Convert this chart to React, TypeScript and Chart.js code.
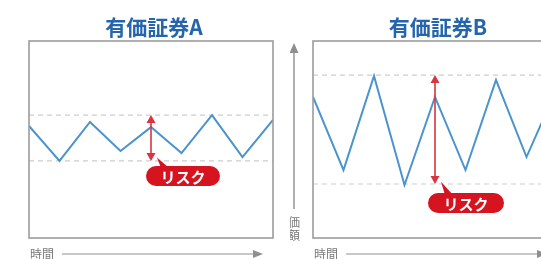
import React, { useEffect, useRef } from "react";
import { Chart, registerables } from "chart.js";

Chart.register(...registerables);

// ---- data ----
const timeSteps = [0, 1, 2, 3, 4, 5, 6, 7, 8];
const titles = ["有価証券A", "有価証券B"];
const seriesA = [56.9, 39.1, 58.9, 44.2, 56.3, 43.1, 62.4, 41.1, 59.9];
const seriesB = [71.6, 34.5, 82.2, 26.9, 71.6, 34.5, 80.2, 41.1, 76.1];
const bandA = [62.4, 39.1];
const bandB = [82.7, 27.4];
const riskIndex = 4;
const riskLabel = "リスク";
const timeLabel = "時間";
const priceLabel = ["価", "額"];

const LINE = "#4a93cf";
const DASH = "#cdcdcd";
const RED = "#d6141f";
const RED_ARROW = "#d9343f";
const GRAY = "#8f8f8f";
const TITLE = "#2465ab";
const FONT = '"Noto Sans CJK JP", "Noto Sans", sans-serif';

type PanelCfg = {
  title: string;
  series: number[];
  band: number[];
  pad: { left: number; right: number; top: number; bottom: number };
  pill: { dx: number; dy: number; w: number; h: number; tailX: number };
  valueAxis: boolean;
};

function makePlugin(cfg: PanelCfg) {
  return {
    id: "decor",
    afterDraw(chart: any) {
      const ctx = chart.ctx as CanvasRenderingContext2D;
      const a = chart.chartArea;
      const xs = chart.scales.x;
      const ys = chart.scales.y;
      ctx.save();
      // border
      ctx.strokeStyle = "#9c9c9c";
      ctx.lineWidth = 1.6;
      ctx.strokeRect(a.left, a.top, a.right - a.left, a.bottom - a.top);

      // title
      ctx.fillStyle = TITLE;
      ctx.font = `bold 21px ${FONT}`;
      ctx.textAlign = "center";
      ctx.textBaseline = "middle";
      ctx.fillText(cfg.title, (a.left + a.right) / 2 + 3, 27);

      // risk arrow
      const rx = xs.getPixelForValue(riskIndex);
      const yTop = ys.getPixelForValue(cfg.band[0]);
      const yBot = ys.getPixelForValue(cfg.band[1]);
      ctx.strokeStyle = RED_ARROW;
      ctx.fillStyle = RED_ARROW;
      ctx.lineWidth = 1.6;
      ctx.beginPath();
      ctx.moveTo(rx, yTop + 6);
      ctx.lineTo(rx, yBot - 6);
      ctx.stroke();
      ctx.beginPath();
      ctx.moveTo(rx, yTop);
      ctx.lineTo(rx - 4.5, yTop + 8);
      ctx.lineTo(rx + 4.5, yTop + 8);
      ctx.closePath();
      ctx.fill();
      ctx.beginPath();
      ctx.moveTo(rx, yBot);
      ctx.lineTo(rx - 4.5, yBot - 8);
      ctx.lineTo(rx + 4.5, yBot - 8);
      ctx.closePath();
      ctx.fill();

      // pill callout
      const p = cfg.pill;
      const px = rx + p.dx;
      const py = yBot + p.dy;
      const r = p.h / 2;
      ctx.fillStyle = RED;
      ctx.beginPath();
      ctx.moveTo(px + r, py);
      ctx.lineTo(px + p.w - r, py);
      ctx.arc(px + p.w - r, py + r, r, -Math.PI / 2, Math.PI / 2);
      ctx.lineTo(px + r, py + p.h);
      ctx.arc(px + r, py + r, r, Math.PI / 2, (3 * Math.PI) / 2);
      ctx.closePath();
      ctx.fill();
      // tail
      ctx.beginPath();
      ctx.moveTo(rx + p.tailX, py + 2);
      ctx.lineTo(rx + p.tailX - 4, yBot - 5 + p.dy * 0.3);
      ctx.lineTo(rx + p.tailX + 8, py + 2);
      ctx.closePath();
      ctx.fill();
      ctx.fillStyle = "#ffffff";
      ctx.font = `bold 15px ${FONT}`;
      ctx.textAlign = "center";
      ctx.textBaseline = "middle";
      ctx.fillText(riskLabel, px + p.w / 2, py + p.h / 2 + 1);

      // time axis
      const ty = 254;
      ctx.fillStyle = "#7a7a7a";
      ctx.font = `12px ${FONT}`;
      ctx.textAlign = "left";
      ctx.fillText(timeLabel, a.left + 1, ty);
      ctx.strokeStyle = GRAY;
      ctx.lineWidth = 1.2;
      ctx.beginPath();
      ctx.moveTo(a.left + 33, ty);
      ctx.lineTo(a.left + 226, ty);
      ctx.stroke();
      ctx.fillStyle = GRAY;
      ctx.beginPath();
      ctx.moveTo(a.left + 234, ty);
      ctx.lineTo(a.left + 224, ty - 4);
      ctx.lineTo(a.left + 224, ty + 4);
      ctx.closePath();
      ctx.fill();

      // value axis between panels
      if (cfg.valueAxis) {
        const vx = a.left - 19;
        ctx.strokeStyle = GRAY;
        ctx.lineWidth = 1.4;
        ctx.beginPath();
        ctx.moveTo(vx, 52);
        ctx.lineTo(vx, 209);
        ctx.stroke();
        ctx.fillStyle = GRAY;
        ctx.beginPath();
        ctx.moveTo(vx, 43);
        ctx.lineTo(vx - 4.5, 53);
        ctx.lineTo(vx + 4.5, 53);
        ctx.closePath();
        ctx.fill();
        ctx.fillStyle = "#7a7a7a";
        ctx.font = `12px ${FONT}`;
        ctx.textAlign = "center";
        ctx.textBaseline = "middle";
        ctx.fillText(priceLabel[0], vx, 222);
        ctx.fillText(priceLabel[1], vx, 235);
      }
      ctx.restore();
    },
  };
}

function Panel({ cfg, left }: { cfg: PanelCfg; left: number }) {
  const ref = useRef<HTMLCanvasElement>(null);
  useEffect(() => {
    if (!ref.current) return;
    const toPts = (vals: number[]) => timeSteps.map((t, i) => ({ x: t, y: vals[i] }));
    const flat = (v: number) => timeSteps.map((t) => ({ x: t, y: v }));
    const chart = new Chart(ref.current, {
      type: "line",
      data: {
        datasets: [
          { data: flat(cfg.band[0]), borderColor: DASH, borderWidth: 1.2, borderDash: [5, 4], pointRadius: 0, order: 2 },
          { data: flat(cfg.band[1]), borderColor: DASH, borderWidth: 1.2, borderDash: [5, 4], pointRadius: 0, order: 2 },
          { data: toPts(cfg.series), borderColor: LINE, borderWidth: 2, pointRadius: 0, tension: 0, order: 1 },
        ],
      },
      options: {
        responsive: false,
        animation: false,
        layout: { padding: cfg.pad },
        plugins: { legend: { display: false }, tooltip: { enabled: false }, title: { display: false } },
        scales: {
          x: { type: "linear", min: 0, max: 8, display: false },
          y: { type: "linear", min: 0, max: 100, display: false },
        },
      },
      plugins: [makePlugin(cfg)],
    } as any);
    return () => chart.destroy();
  }, [cfg]);
  return (
    <canvas
      ref={ref}
      width={290}
      height={259}
      style={{ position: "absolute", left, top: 0, width: 290, height: 259 }}
    />
  );
}

const cfgA: PanelCfg = {
  title: titles[0],
  series: seriesA,
  band: bandA,
  pad: { left: 29, right: 17, top: 41, bottom: 21 },
  pill: { dx: -5, dy: 5, w: 74, h: 20, tailX: 10 },
  valueAxis: false,
};
const cfgB: PanelCfg = {
  title: titles[1],
  series: seriesB,
  band: bandB,
  pad: { left: 23, right: 23, top: 41, bottom: 21 },
  pill: { dx: -7, dy: 9, w: 76, h: 20, tailX: 10 },
  valueAxis: true,
};

export default function App() {
  return (
    <div
      style={{
        position: "fixed",
        left: 0,
        top: 0,
        width: 541,
        height: 259,
        overflow: "hidden",
        background: "#ffffff",
      }}
    >
      <Panel cfg={cfgA} left={0} />
      <Panel cfg={cfgB} left={290} />
    </div>
  );
}
